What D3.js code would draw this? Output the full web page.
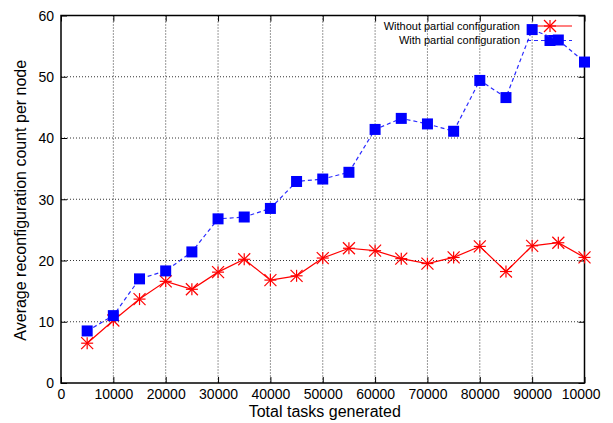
<!DOCTYPE html>
<html><head><meta charset="utf-8">
<script src="https://cdn.jsdelivr.net/npm/d3@7"></script>
<style>body{margin:0;background:#fff}svg{display:block}text{font-family:"Liberation Sans",Arial,sans-serif;fill:#000}</style>
</head><body><svg id="c" width="613" height="423"></svg>
<script>
const tasks = [5000,10000,15000,20000,25000,30000,35000,40000,45000,50000,55000,60000,65000,70000,75000,80000,85000,90000,95000,100000];
const withoutPartial = [6.5,10.2,13.7,16.6,15.3,18.1,20.2,16.8,17.5,20.4,22.0,21.6,20.3,19.5,20.5,22.3,18.2,22.4,22.9,20.5];
const withPartial = [8.5,11.0,17.0,18.3,21.4,26.8,27.1,28.5,32.9,33.3,34.4,41.4,43.2,42.3,41.1,49.4,46.6,57.7,56.0,52.4];
const xTicks = [0,10000,20000,30000,40000,50000,60000,70000,80000,90000,100000];
const yTicks = [0,10,20,30,40,50,60];
const seriesNames = ["Without partial configuration","With partial configuration"];

const svg = d3.select("#c");
const L=61, R=584.5, T=15.5, B=383;
const x = d3.scaleLinear().domain([0,100000]).range([L,R]);
const y = d3.scaleLinear().domain([0,60]).range([B,T]);

svg.append("defs").append("clipPath").attr("id","cl").append("rect").attr("x",0).attr("y",0).attr("width",600.5).attr("height",423);

// grid
const g = svg.append("g");
g.selectAll(".gx").data(xTicks.slice(1,-1)).join("line")
  .attr("x1",d=>x(d)).attr("x2",d=>x(d)).attr("y1",T).attr("y2",B)
  .attr("stroke","#333").attr("stroke-width",1).attr("stroke-dasharray","1,2");
g.selectAll(".gy").data(yTicks.slice(1,-1)).join("line")
  .attr("y1",d=>y(d)).attr("y2",d=>y(d)).attr("x1",L).attr("x2",R)
  .attr("stroke","#333").attr("stroke-width",1).attr("stroke-dasharray","1,2");

// axes with inward ticks
const ax = svg.append("g");
const xwrap = ax.append("g").attr("clip-path","url(#cl)");
const xb = xwrap.append("g").attr("transform",`translate(0,${B})`).call(d3.axisBottom(x).tickValues(xTicks).tickSizeInner(-6).tickSizeOuter(0).tickFormat(d3.format("d")));
const xt = ax.append("g").attr("transform",`translate(0,${T})`).call(d3.axisTop(x).tickValues(xTicks).tickSizeInner(-6).tickSizeOuter(0).tickFormat(""));
const yl = ax.append("g").attr("transform",`translate(${L},0)`).call(d3.axisLeft(y).tickValues(yTicks).tickSizeInner(-6).tickSizeOuter(0));
const yr = ax.append("g").attr("transform",`translate(${R},0)`).call(d3.axisRight(y).tickValues(yTicks).tickSizeInner(-6).tickSizeOuter(0).tickFormat(""));
ax.selectAll(".domain").remove();
ax.selectAll(".tick line").attr("stroke","#000").attr("stroke-width",1);
xb.selectAll(".tick text").attr("font-size",14).attr("y",6).attr("dy","0.71em");
yl.selectAll(".tick text").attr("font-size",14).attr("x",-7).attr("dy","0.35em");
ax.selectAll("text").attr("font-family",'"Liberation Sans",Arial,sans-serif').attr("fill","#000");

svg.append("rect").attr("x",L).attr("y",T).attr("width",R-L).attr("height",B-T)
  .attr("fill","none").attr("stroke","#000").attr("stroke-width",1.5);

// titles
svg.append("text").attr("x",(L+R)/2+2).attr("y",417).attr("text-anchor","middle").attr("font-size",16).text("Total tasks generated");
svg.append("text").attr("transform",`translate(26,${(T+B)/2+1}) rotate(-90)`).attr("text-anchor","middle").attr("font-size",16).text("Average reconfiguration count per node");

function star(sel,cx,cy,s,color){
  const gg = sel.append("g").attr("stroke",color).attr("stroke-width",1.2);
  gg.append("line").attr("x1",cx-s).attr("x2",cx+s).attr("y1",cy).attr("y2",cy);
  gg.append("line").attr("x1",cx).attr("x2",cx).attr("y1",cy-s).attr("y2",cy+s);
  gg.append("line").attr("x1",cx-s).attr("x2",cx+s).attr("y1",cy-s).attr("y2",cy+s);
  gg.append("line").attr("x1",cx-s).attr("x2",cx+s).attr("y1",cy+s).attr("y2",cy-s);
}
const line = d3.line().x(d=>x(d[0])).y(d=>y(d[1]));
const lx1=527, lx2=572, lxm=550;

// series 1 legend + data
svg.append("text").attr("x",520).attr("y",26).attr("dy","0.35em").attr("text-anchor","end").attr("font-size",11).text(seriesNames[0]);
svg.append("line").attr("x1",lx1).attr("x2",lx2).attr("y1",26).attr("y2",26).attr("stroke","#f00").attr("stroke-width",1.2);
star(svg,lxm,26,6,"#f00");
const d1 = tasks.map((t,i)=>[t,withoutPartial[i]]);
svg.append("path").attr("d",line(d1)).attr("fill","none").attr("stroke","#f00").attr("stroke-width",1.2);
d1.forEach(d=>star(svg,x(d[0]),y(d[1]),6,"#f00"));

// series 2 legend + data
svg.append("text").attr("x",520).attr("y",40.5).attr("dy","0.35em").attr("text-anchor","end").attr("font-size",11).text(seriesNames[1]);
svg.append("line").attr("x1",lx1).attr("x2",lx2).attr("y1",40.5).attr("y2",40.5).attr("stroke","#2a2aff").attr("stroke-width",1.2).attr("stroke-dasharray","4,3");
svg.append("rect").attr("x",lxm-5.5).attr("y",40.5-5.5).attr("width",11).attr("height",11).attr("fill","#00f");
const d2 = tasks.map((t,i)=>[t,withPartial[i]]);
svg.append("path").attr("d",line(d2)).attr("fill","none").attr("stroke","#2a2aff").attr("stroke-width",1.2).attr("stroke-dasharray","4,3");
svg.selectAll(".sq").data(d2).join("rect").attr("x",d=>x(d[0])-5.5).attr("y",d=>y(d[1])-5.5).attr("width",11).attr("height",11).attr("fill","#00f");
</script></body></html>
